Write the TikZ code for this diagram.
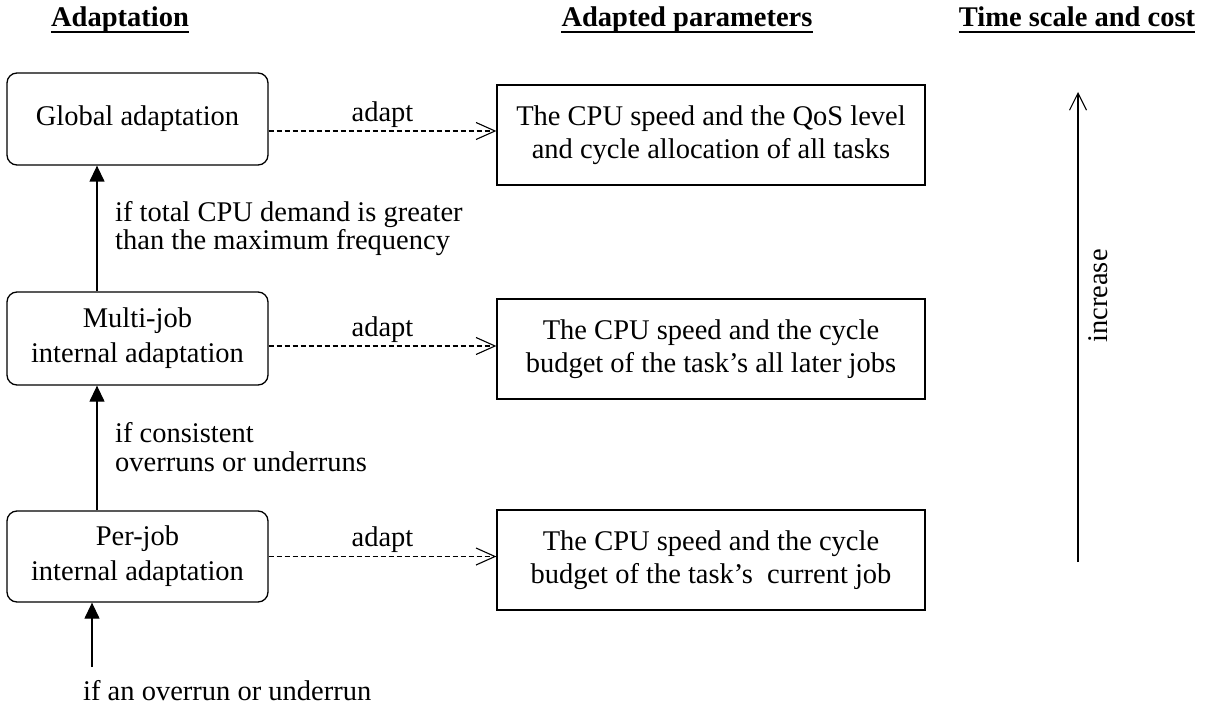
\documentclass[tikz,border=0pt]{standalone}
\usepackage{fontspec}
\setmainfont{Liberation Serif}
\usetikzlibrary{arrows.meta,calc}
\begin{document}
\begin{tikzpicture}[x=1pt,y=-1pt,font=\fontsize{28.5}{33}\selectfont,
  lbox/.style={draw,rounded corners=10pt,line width=1.3pt,minimum width=261pt,align=center,inner sep=0pt,font=\fontsize{28.5}{35}\selectfont},
  rbox/.style={draw,line width=1.3pt,minimum width=428pt,minimum height=100pt,align=center,inner sep=0pt},
  dasharrow/.style={dash pattern=on 5pt off 3pt,line width=1.1pt,-{Straight Barb[length=19pt,width=17pt,line width=1.1pt]}},
  uparrow/.style={line width=1.3pt,-{Triangle[length=16pt,width=15pt]}},
  lbl/.style={anchor=base west,inner sep=0pt},
  head/.style={font=\fontsize{28.5}{33}\selectfont\bfseries,inner sep=0pt,anchor=base},
  ulin/.style={line width=2.4pt}]
\useasboundingbox (0,0) rectangle (1206,711);
% headings
\node[head] (h1) at (120,27) {Adaptation};
\node[head] (h2) at (687,27) {Adapted parameters};
\node[head] (h3) at (1077,27) {Time scale and cost};
\draw[ulin] ([yshift=-5pt]h1.base west) -- ([yshift=-5pt]h1.base east);
\draw[ulin] ([yshift=-5pt]h2.base west) -- ([yshift=-5pt]h2.base east);
\draw[ulin] ([yshift=-5pt]h3.base west) -- ([yshift=-5pt]h3.base east);
% left boxes
\node[lbox,minimum height=92pt] (gl) at (137.5,119) {Global adaptation};
\node[lbox,minimum height=93pt] (mj) at (137.5,338.5) {Multi-job\\internal adaptation};
\node[lbox,minimum height=91pt] (pj) at (137.5,556.5) {Per-job\\internal adaptation};
% right boxes
\node[rbox] (gr) at (711,135) {The CPU speed and the QoS level\\and cycle allocation of all tasks};
\node[rbox] (mr) at (711,349) {The CPU speed and the cycle\\budget of the task’s all later jobs};
\node[rbox] (pr) at (711,560) {The CPU speed and the cycle\\budget of the task’s~ current job};
% dashed arrows
\draw[dasharrow] ([yshift=-12pt]gl.east) -- ([yshift=-12pt]gl.east -| gr.west) node[midway,above,inner sep=3pt] (a1) {adapt};
\draw[dasharrow] ([yshift=-7.5pt]mj.east) -- ([yshift=-7.5pt]mj.east -| mr.west) node[midway,above,inner sep=3pt] (a2) {adapt};
\draw[dasharrow] (pj.east) -- (pj.east -| pr.west) node[midway,above,inner sep=3pt] (a3) {adapt};
% vertical arrows
\draw[uparrow] ([xshift=-40.5pt]mj.north) -- ([xshift=-40.5pt]gl.south);
\draw[uparrow] ([xshift=-40.5pt]pj.north) -- ([xshift=-40.5pt]mj.south);
\coordinate (src) at (92,667);
\draw[uparrow] (src) -- (src |- pj.south);
% labels
\node[lbl] (l1a) at (115,222) {if total CPU demand is greater};
\node[lbl] (l1b) at (115,250) {than the maximum frequency};
\node[lbl] (l2a) at (115,442) {if consistent};
\node[lbl] (l2b) at (115,471) {overruns or underruns};
\node[lbl] (l3) at (83,700) {if an overrun or underrun};
% time scale arrow
\coordinate (t0) at (1078,562);
\coordinate (t1) at (1078,92);
\draw[line width=1.1pt,-{Straight Barb[length=17pt,width=17pt,line width=1.1pt]}] (t0) -- (t1);
\node[rotate=90] (inc) at (1098,296) {increase};
\end{tikzpicture}
\end{document}
